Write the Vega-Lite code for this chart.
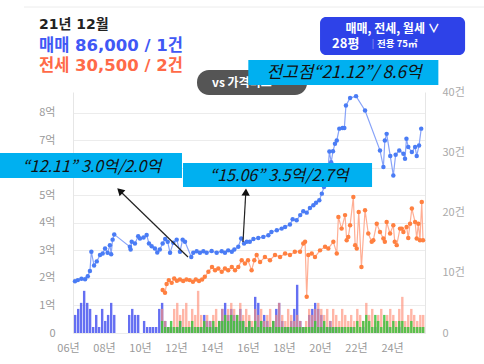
{
"$schema": "https://vega.github.io/schema/vega-lite/v6.json",
"width": 352, "height": 241,
"autosize": "none",
"padding": {"left": 73, "top": 92, "right": 59, "bottom": 31},
"background": "white",
"config": {"view": {"stroke": null}, "font": "Noto Sans CJK KR", "scale": {"continuousPadding": 0}},
"datasets": {
"sale": [
{"t":2006.39,"v":1.88},{"t":2006.55,"v":1.92},{"t":2006.75,"v":1.97},{"t":2006.95,"v":1.95},{"t":2007.1,"v":2.06},{"t":2007.22,"v":2.25},{"t":2007.3,"v":2.95},{"t":2007.45,"v":2.45},{"t":2007.6,"v":2.6},{"t":2007.78,"v":2.83},{"t":2007.93,"v":2.89},{"t":2008.06,"v":3.07},{"t":2008.2,"v":2.91},{"t":2008.33,"v":3.19},{"t":2008.4,"v":2.86},{"t":2008.48,"v":3.39},{"t":2008.57,"v":3.58},{"t":2009.44,"v":3.13},{"t":2009.48,"v":3.03},{"t":2009.54,"v":3.31},{"t":2009.72,"v":3.25},{"t":2009.9,"v":3.51},{"t":2010.0,"v":3.43},{"t":2010.2,"v":3.47},{"t":2010.37,"v":3.56},{"t":2010.5,"v":3.25},{"t":2010.65,"v":3.15},{"t":2010.83,"v":3.07},{"t":2010.96,"v":2.92},{"t":2011.1,"v":3.03},{"t":2011.26,"v":3.25},{"t":2011.4,"v":3.41},{"t":2011.54,"v":3.31},{"t":2011.67,"v":2.91},{"t":2011.85,"v":3.28},{"t":2012.04,"v":3.39},{"t":2012.22,"v":2.95},{"t":2012.37,"v":3.39},{"t":2012.5,"v":3.31},{"t":2012.85,"v":2.76},{"t":2012.96,"v":2.91},{"t":2013.15,"v":2.97},{"t":2013.33,"v":2.91},{"t":2013.52,"v":2.97},{"t":2013.7,"v":2.91},{"t":2013.98,"v":2.98},{"t":2014.26,"v":2.91},{"t":2014.54,"v":2.97},{"t":2014.72,"v":2.91},{"t":2014.9,"v":3.0},{"t":2015.1,"v":2.95},{"t":2015.24,"v":3.03},{"t":2015.46,"v":3.13},{"t":2015.62,"v":3.43},{"t":2015.78,"v":3.25},{"t":2015.93,"v":3.31},{"t":2016.1,"v":3.31},{"t":2016.3,"v":3.41},{"t":2016.57,"v":3.45},{"t":2016.85,"v":3.49},{"t":2017.13,"v":3.55},{"t":2017.3,"v":3.67},{"t":2017.6,"v":3.73},{"t":2017.87,"v":3.79},{"t":2018.06,"v":3.85},{"t":2018.33,"v":3.94},{"t":2018.48,"v":4.13},{"t":2018.7,"v":4.09},{"t":2018.9,"v":4.28},{"t":2019.07,"v":4.42},{"t":2019.26,"v":4.37},{"t":2019.44,"v":4.54},{"t":2019.63,"v":4.64},{"t":2019.78,"v":4.73},{"t":2019.96,"v":4.82},{"t":2020.1,"v":5.06},{"t":2020.22,"v":5.3},{"t":2020.4,"v":5.55},{"t":2020.52,"v":6.59},{"t":2020.62,"v":6.2},{"t":2020.72,"v":6.6},{"t":2020.83,"v":6.87},{"t":2020.93,"v":6.99},{"t":2021.07,"v":7.42},{"t":2021.25,"v":7.44},{"t":2021.35,"v":7.44},{"t":2021.44,"v":8.26},{"t":2021.67,"v":8.53},{"t":2022.0,"v":8.6},{"t":2022.5,"v":8.08},{"t":2023.33,"v":6.63},{"t":2023.52,"v":6.03},{"t":2023.6,"v":6.99},{"t":2023.7,"v":7.23},{"t":2023.9,"v":6.43},{"t":2024.07,"v":5.72},{"t":2024.2,"v":6.47},{"t":2024.4,"v":6.63},{"t":2024.63,"v":6.51},{"t":2024.72,"v":6.33},{"t":2024.8,"v":7.05},{"t":2024.9,"v":6.75},{"t":2025.1,"v":6.57},{"t":2025.28,"v":6.75},{"t":2025.37,"v":6.43},{"t":2025.5,"v":6.81},{"t":2025.62,"v":7.42}
],
"jeonse": [
{"t":2011.26,"v":1.56},{"t":2011.39,"v":1.46},{"t":2011.48,"v":1.78},{"t":2011.6,"v":1.92},{"t":2011.76,"v":1.82},{"t":2011.9,"v":1.98},{"t":2012.05,"v":1.9},{"t":2012.22,"v":1.94},{"t":2012.4,"v":1.89},{"t":2012.58,"v":1.94},{"t":2012.76,"v":1.92},{"t":2012.94,"v":1.86},{"t":2013.1,"v":1.94},{"t":2013.28,"v":1.89},{"t":2013.45,"v":1.94},{"t":2013.6,"v":2.04},{"t":2013.8,"v":2.22},{"t":2014.0,"v":2.4},{"t":2014.17,"v":2.28},{"t":2014.35,"v":2.34},{"t":2014.54,"v":2.22},{"t":2014.72,"v":2.34},{"t":2014.9,"v":2.28},{"t":2015.1,"v":2.4},{"t":2015.28,"v":2.28},{"t":2015.46,"v":2.4},{"t":2015.65,"v":2.64},{"t":2015.83,"v":2.52},{"t":2016.0,"v":2.64},{"t":2016.2,"v":2.28},{"t":2016.35,"v":2.64},{"t":2016.48,"v":2.83},{"t":2016.67,"v":2.58},{"t":2016.94,"v":2.76},{"t":2017.22,"v":2.64},{"t":2017.5,"v":2.83},{"t":2017.78,"v":2.76},{"t":2018.06,"v":2.89},{"t":2018.33,"v":2.83},{"t":2018.6,"v":2.95},{"t":2018.89,"v":2.95},{"t":2019.07,"v":3.25},{"t":2019.17,"v":3.31},{"t":2019.26,"v":1.32},{"t":2019.35,"v":2.83},{"t":2019.54,"v":2.89},{"t":2019.72,"v":2.76},{"t":2020.0,"v":3.0},{"t":2020.28,"v":3.13},{"t":2020.46,"v":3.07},{"t":2020.74,"v":3.31},{"t":2020.93,"v":2.89},{"t":2021.02,"v":4.21},{"t":2021.2,"v":3.79},{"t":2021.39,"v":4.28},{"t":2021.48,"v":3.37},{"t":2021.57,"v":3.49},{"t":2021.67,"v":3.91},{"t":2021.85,"v":4.94},{"t":2021.95,"v":3.19},{"t":2022.04,"v":3.07},{"t":2022.15,"v":4.39},{"t":2022.3,"v":2.4},{"t":2022.5,"v":4.46},{"t":2022.68,"v":3.61},{"t":2022.87,"v":3.31},{"t":2022.96,"v":3.37},{"t":2023.15,"v":3.97},{"t":2023.33,"v":3.67},{"t":2023.52,"v":3.43},{"t":2023.6,"v":3.31},{"t":2023.7,"v":4.03},{"t":2023.89,"v":3.61},{"t":2024.07,"v":3.91},{"t":2024.15,"v":3.31},{"t":2024.26,"v":3.19},{"t":2024.44,"v":3.79},{"t":2024.54,"v":3.79},{"t":2024.63,"v":3.67},{"t":2024.81,"v":3.85},{"t":2024.9,"v":3.45},{"t":2025.0,"v":3.97},{"t":2025.1,"v":4.52},{"t":2025.28,"v":4.03},{"t":2025.37,"v":3.43},{"t":2025.46,"v":3.97},{"t":2025.55,"v":3.37},{"t":2025.65,"v":4.76},{"t":2025.72,"v":3.37}
],
"vol": [
{"t":2006.4,"s":3,"j":0,"w":0},{"t":2006.57,"s":4,"j":0,"w":0},{"t":2006.73,"s":5,"j":0,"w":0},{"t":2006.9,"s":7,"j":0,"w":0},{"t":2007.07,"s":5,"j":0,"w":0},{"t":2007.23,"s":4,"j":0,"w":0},{"t":2007.4,"s":1,"j":0,"w":0},{"t":2007.57,"s":3,"j":0,"w":0},{"t":2007.73,"s":1,"j":0,"w":0},{"t":2007.9,"s":4,"j":0,"w":0},{"t":2008.07,"s":2,"j":0,"w":0},{"t":2008.23,"s":3,"j":0,"w":0},{"t":2008.4,"s":5,"j":0,"w":0},{"t":2008.57,"s":3,"j":0,"w":0},
{"t":2009.4,"s":3,"j":0,"w":0},{"t":2009.57,"s":4,"j":0,"w":0},{"t":2009.73,"s":3,"j":0,"w":0},{"t":2009.9,"s":3,"j":0,"w":0},{"t":2010.23,"s":2,"j":0,"w":0},{"t":2010.4,"s":1,"j":0,"w":0},{"t":2010.57,"s":1,"j":0,"w":0},{"t":2010.73,"s":1,"j":0,"w":0},{"t":2010.9,"s":1,"j":0,"w":0},{"t":2011.07,"s":4,"j":0,"w":0},
{"t":2011.23,"s":5,"j":4,"w":2},{"t":2011.4,"s":2,"j":2,"w":1},{"t":2011.57,"s":1,"j":1,"w":1},{"t":2011.73,"s":1,"j":1,"w":2},{"t":2011.9,"s":0,"j":4,"w":1},{"t":2012.07,"s":1,"j":5,"w":1},{"t":2012.23,"s":2,"j":3,"w":2},{"t":2012.4,"s":1,"j":4,"w":1},{"t":2012.57,"s":0,"j":5,"w":1},{"t":2012.73,"s":1,"j":2,"w":1},{"t":2012.9,"s":1,"j":4,"w":2},{"t":2013.07,"s":0,"j":3,"w":1},{"t":2013.23,"s":1,"j":7,"w":1},{"t":2013.4,"s":1,"j":3,"w":1},{"t":2013.57,"s":3,"j":2,"w":2},{"t":2013.73,"s":2,"j":3,"w":1},{"t":2013.9,"s":2,"j":2,"w":1},
{"t":2014.07,"s":1,"j":3,"w":2},{"t":2014.23,"s":1,"j":4,"w":1},{"t":2014.4,"s":2,"j":2,"w":2},{"t":2014.57,"s":4,"j":4,"w":2},{"t":2014.73,"s":5,"j":3,"w":3},{"t":2014.9,"s":3,"j":4,"w":2},{"t":2015.07,"s":4,"j":5,"w":3},{"t":2015.23,"s":3,"j":4,"w":2},{"t":2015.4,"s":2,"j":3,"w":3},{"t":2015.57,"s":4,"j":5,"w":2},{"t":2015.73,"s":2,"j":3,"w":2},{"t":2015.9,"s":1,"j":4,"w":1},
{"t":2016.07,"s":2,"j":3,"w":2},{"t":2016.23,"s":1,"j":2,"w":1},{"t":2016.4,"s":6,"j":4,"w":2},{"t":2016.57,"s":5,"j":3,"w":1},{"t":2016.73,"s":2,"j":4,"w":2},{"t":2016.9,"s":3,"j":2,"w":1},{"t":2017.07,"s":2,"j":3,"w":1},{"t":2017.23,"s":1,"j":4,"w":1},{"t":2017.4,"s":2,"j":2,"w":2},{"t":2017.57,"s":4,"j":3,"w":1},{"t":2017.73,"s":5,"j":5,"w":1},{"t":2017.9,"s":2,"j":3,"w":1},
{"t":2018.07,"s":1,"j":2,"w":1},{"t":2018.23,"s":1,"j":4,"w":1},{"t":2018.4,"s":2,"j":3,"w":1},{"t":2018.57,"s":4,"j":2,"w":1},{"t":2018.73,"s":8,"j":3,"w":1},{"t":2018.9,"s":2,"j":2,"w":1},{"t":2019.07,"s":1,"j":1,"w":1},{"t":2019.23,"s":0,"j":2,"w":1},{"t":2019.4,"s":3,"j":4,"w":1},{"t":2019.57,"s":4,"j":3,"w":1},{"t":2019.73,"s":5,"j":4,"w":2},{"t":2019.9,"s":4,"j":5,"w":1},
{"t":2020.07,"s":3,"j":4,"w":1},{"t":2020.23,"s":1,"j":3,"w":2},{"t":2020.4,"s":1,"j":4,"w":1},{"t":2020.57,"s":2,"j":2,"w":1},{"t":2020.73,"s":1,"j":4,"w":1},{"t":2020.9,"s":1,"j":3,"w":1},{"t":2021.07,"s":0,"j":2,"w":1},{"t":2021.23,"s":1,"j":4,"w":1},{"t":2021.4,"s":0,"j":3,"w":1},{"t":2021.57,"s":0,"j":2,"w":1},{"t":2021.73,"s":1,"j":3,"w":1},{"t":2021.9,"s":0,"j":2,"w":1},
{"t":2022.07,"s":0,"j":4,"w":2},{"t":2022.23,"s":0,"j":3,"w":1},{"t":2022.4,"s":1,"j":2,"w":2},{"t":2022.57,"s":0,"j":5,"w":3},{"t":2022.73,"s":0,"j":3,"w":2},{"t":2022.9,"s":0,"j":4,"w":1},{"t":2023.07,"s":1,"j":2,"w":3},{"t":2023.23,"s":0,"j":3,"w":2},{"t":2023.4,"s":0,"j":4,"w":1},{"t":2023.57,"s":0,"j":2,"w":3},{"t":2023.73,"s":1,"j":3,"w":2},{"t":2023.9,"s":0,"j":4,"w":1},
{"t":2024.07,"s":0,"j":3,"w":2},{"t":2024.23,"s":0,"j":2,"w":1},{"t":2024.4,"s":1,"j":4,"w":2},{"t":2024.57,"s":0,"j":6,"w":2},{"t":2024.73,"s":0,"j":2,"w":1},{"t":2024.9,"s":0,"j":3,"w":1},{"t":2025.07,"s":0,"j":4,"w":2},{"t":2025.23,"s":0,"j":3,"w":1},{"t":2025.4,"s":0,"j":2,"w":1},{"t":2025.57,"s":0,"j":3,"w":1},{"t":2025.73,"s":0,"j":3,"w":1}
]
},
"resolve": {"scale": {"y": "independent", "x": "independent"}},
"layer": [
  {"data": {"values": [{"label": "line"}]}, "mark": {"type": "rule", "color": "#ececec", "strokeWidth": 1},
   "encoding": {"x": {"datum": 2003.556, "type": "quantitative", "scale": {"domain": [2006.28, 2025.83], "nice": false, "zero": false, "padding": 0}, "axis": null}, "x2": {"datum": 2029.111}, "y": {"datum": 11.836, "type": "quantitative", "scale": {"domain": [0, 8.75], "nice": false}, "axis": null}}},
  {"data": {"name": "vol"}, "mark": {"type": "bar", "width": 2.4, "color": "#4a56f0", "opacity": 0.85},
   "encoding": {
    "x": {"field": "t", "type": "quantitative", "scale": {"domain": [2006.28, 2025.83], "nice": false, "zero": false, "padding": 0},
      "axis": {"orient": "bottom", "values": [2006.3,2008.3,2010.3,2012.3,2014.3,2016.3,2018.3,2020.3,2022.3,2024.3], "labelExpr": "(floor(datum.value) % 100 < 10 ? '0' : '') + (floor(datum.value) % 100) + '년'", "labelOffset": -5.4, "title": null, "ticks": false, "domain": false, "grid": false, "labelPadding": 9, "labelColor": "#999999", "labelFontSize": 11, "labelFont": "Noto Sans CJK KR", "labelOverlap": false, "labelBound": false, "labelFlush": false}},
    "y": {"field": "s", "type": "quantitative", "scale": {"domain": [0, 40], "nice": false},
      "axis": {"orient": "right", "values": [0,10,20,30,40], "labelExpr": "datum.value == 0 ? '0' : datum.value + '건'", "title": null, "ticks": false, "grid": false, "labelPadding": 17, "labelColor": "#aaaaaa", "labelFontSize": 11, "domainColor": "#e6e6e6", "labelFont": "Noto Sans CJK KR"}}
   }},
  {"data": {"name": "vol"}, "mark": {"type": "bar", "width": 2.4, "color": "#ff8f78", "opacity": 0.65},
   "encoding": {
    "x": {"field": "t", "type": "quantitative", "scale": {"domain": [2006.28, 2025.83], "nice": false, "zero": false, "padding": 0}, "axis": null},
    "y": {"field": "j", "type": "quantitative", "scale": {"domain": [0, 40], "nice": false}, "axis": null}
   }},
  {"data": {"name": "vol"}, "mark": {"type": "bar", "width": 2.4, "color": "#3cc23c", "opacity": 0.85},
   "encoding": {
    "x": {"field": "t", "type": "quantitative", "scale": {"domain": [2006.28, 2025.83], "nice": false, "zero": false, "padding": 0}, "axis": null},
    "y": {"field": "w", "type": "quantitative", "scale": {"domain": [0, 40], "nice": false}, "axis": null}
   }},
  {"data": {"name": "jeonse"}, "mark": {"type": "line", "color": "#ffae94", "strokeWidth": 1.2},
   "encoding": {
    "x": {"field": "t", "type": "quantitative", "scale": {"domain": [2006.28, 2025.83], "nice": false, "zero": false, "padding": 0}, "axis": null},
    "y": {"field": "v", "type": "quantitative", "scale": {"domain": [0, 8.75], "nice": false},
      "axis": {"orient": "left", "values": [0,1,2,3,4,5,6,7,8], "labelExpr": "datum.value == 0 ? '0' : (datum.value == 6 ? '' : datum.value + '억')", "title": null, "ticks": false, "labelPadding": 18, "labelColor": "#999999", "labelFontSize": 11, "grid": true, "gridColor": "#ececec", "domainColor": "#e6e6e6", "labelFont": "Noto Sans CJK KR"}}
   }},
  {"data": {"name": "jeonse"}, "mark": {"type": "point", "filled": true, "color": "#ff8040", "size": 20, "opacity": 1},
   "encoding": {
    "x": {"field": "t", "type": "quantitative", "scale": {"domain": [2006.28, 2025.83], "nice": false, "zero": false, "padding": 0}, "axis": null},
    "y": {"field": "v", "type": "quantitative", "scale": {"domain": [0, 8.75], "nice": false}, "axis": null}
   }},
  {"data": {"name": "sale"}, "mark": {"type": "line", "color": "#88a3f8", "strokeWidth": 1.2},
   "encoding": {
    "x": {"field": "t", "type": "quantitative", "scale": {"domain": [2006.28, 2025.83], "nice": false, "zero": false, "padding": 0}, "axis": null},
    "y": {"field": "v", "type": "quantitative", "scale": {"domain": [0, 8.75], "nice": false}, "axis": null}
   }},
  {"data": {"name": "sale"}, "mark": {"type": "point", "filled": true, "color": "#4a7cf5", "size": 20, "opacity": 1},
   "encoding": {
    "x": {"field": "t", "type": "quantitative", "scale": {"domain": [2006.28, 2025.83], "nice": false, "zero": false, "padding": 0}, "axis": null},
    "y": {"field": "v", "type": "quantitative", "scale": {"domain": [0, 8.75], "nice": false}, "axis": null}
   }},
  {"data": {"values": [{"label": "arrow"}]}, "mark": {"type": "rule", "color": "#222222", "strokeWidth": 1.2},
   "encoding": {"x": {"datum": 2012.667, "type": "quantitative", "scale": {"domain": [2006.28, 2025.83], "nice": false, "zero": false, "padding": 0}, "axis": null}, "y": {"datum": 2.759, "type": "quantitative", "scale": {"domain": [0, 8.75], "nice": false}, "axis": null}, "x2": {"datum": 2008.889}, "y2": {"datum": 5.156}}},
  {"data": {"values": [{"label": "arrow"}]}, "mark": {"type": "point", "shape": "triangle-up", "filled": true, "color": "#111111", "size": 70, "angle": 314, "opacity": 1},
   "encoding": {"x": {"datum": 2008.883, "type": "quantitative", "scale": {"domain": [2006.28, 2025.83], "nice": false, "zero": false, "padding": 0}, "axis": null}, "y": {"datum": 5.163, "type": "quantitative", "scale": {"domain": [0, 8.75], "nice": false}, "axis": null}}},
  {"data": {"values": [{"label": "arrow"}]}, "mark": {"type": "rule", "color": "#222222", "strokeWidth": 1.2},
   "encoding": {"x": {"datum": 2015.722, "type": "quantitative", "scale": {"domain": [2006.28, 2025.83], "nice": false, "zero": false, "padding": 0}, "axis": null}, "y": {"datum": 3.304, "type": "quantitative", "scale": {"domain": [0, 8.75], "nice": false}, "axis": null}, "x2": {"datum": 2015.878}, "y2": {"datum": 5.119}}},
  {"data": {"values": [{"label": "arrow"}]}, "mark": {"type": "point", "shape": "triangle-up", "filled": true, "color": "#111111", "size": 70, "angle": 3, "opacity": 1},
   "encoding": {"x": {"datum": 2015.878, "type": "quantitative", "scale": {"domain": [2006.28, 2025.83], "nice": false, "zero": false, "padding": 0}, "axis": null}, "y": {"datum": 5.119, "type": "quantitative", "scale": {"domain": [0, 8.75], "nice": false}, "axis": null}}},
  {"data": {"values": [{"label": "box"}]}, "mark": {"type": "rect", "color": "#2e42e8", "cornerRadius": 6},
   "encoding": {"x": {"datum": 2020.0, "type": "quantitative", "scale": {"domain": [2006.28, 2025.83], "nice": false, "zero": false, "padding": 0}, "axis": null}, "x2": {"datum": 2028.056}, "y": {"datum": 11.473, "type": "quantitative", "scale": {"domain": [0, 8.75], "nice": false}, "axis": null}, "y2": {"datum": 10.093}}},
  {"data": {"values": [{"label": "매매, 전세, 월세 ∨"}]}, "mark": {"type": "text", "color": "white", "fontSize": 12, "fontWeight": "bold", "align": "center", "baseline": "middle"},
   "encoding": {"x": {"datum": 2024.028, "type": "quantitative", "scale": {"domain": [2006.28, 2025.83], "nice": false, "zero": false, "padding": 0}, "axis": null}, "y": {"datum": 11.037, "type": "quantitative", "scale": {"domain": [0, 8.75], "nice": false}, "axis": null}, "text": {"field": "label"}}},
  {"data": {"values": [{"label": "28평"}]}, "mark": {"type": "text", "color": "white", "fontSize": 13, "fontWeight": "bold", "align": "left", "baseline": "middle"},
   "encoding": {"x": {"datum": 2020.667, "type": "quantitative", "scale": {"domain": [2006.28, 2025.83], "nice": false, "zero": false, "padding": 0}, "axis": null}, "y": {"datum": 10.475, "type": "quantitative", "scale": {"domain": [0, 8.75], "nice": false}, "axis": null}, "text": {"field": "label"}}},
  {"data": {"values": [{"label": "|"}]}, "mark": {"type": "text", "color": "#9aa6f5", "fontSize": 9, "align": "center", "baseline": "middle"},
   "encoding": {"x": {"datum": 2022.944, "type": "quantitative", "scale": {"domain": [2006.28, 2025.83], "nice": false, "zero": false, "padding": 0}, "axis": null}, "y": {"datum": 10.475, "type": "quantitative", "scale": {"domain": [0, 8.75], "nice": false}, "axis": null}, "text": {"field": "label"}}},
  {"data": {"values": [{"label": "전용 75㎡"}]}, "mark": {"type": "text", "color": "white", "fontSize": 9.5, "fontWeight": "bold", "align": "left", "baseline": "middle"},
   "encoding": {"x": {"datum": 2023.167, "type": "quantitative", "scale": {"domain": [2006.28, 2025.83], "nice": false, "zero": false, "padding": 0}, "axis": null}, "y": {"datum": 10.475, "type": "quantitative", "scale": {"domain": [0, 8.75], "nice": false}, "axis": null}, "text": {"field": "label"}}},
  {"data": {"values": [{"label": "pill"}]}, "mark": {"type": "rect", "color": "#555555", "cornerRadius": 12},
   "encoding": {"x": {"datum": 2013.167, "type": "quantitative", "scale": {"domain": [2006.28, 2025.83], "nice": false, "zero": false, "padding": 0}, "axis": null}, "x2": {"datum": 2019.278}, "y": {"datum": 9.549, "type": "quantitative", "scale": {"domain": [0, 8.75], "nice": false}, "axis": null}, "y2": {"datum": 8.641}}},
  {"data": {"values": [{"label": "vs 가격비교"}]}, "mark": {"type": "text", "color": "white", "fontSize": 12, "fontWeight": "bold", "align": "left", "baseline": "middle"},
   "encoding": {"x": {"datum": 2014.0, "type": "quantitative", "scale": {"domain": [2006.28, 2025.83], "nice": false, "zero": false, "padding": 0}, "axis": null}, "y": {"datum": 9.077, "type": "quantitative", "scale": {"domain": [0, 8.75], "nice": false}, "axis": null}, "text": {"field": "label"}}},
  {"data": {"values": [{"label": "box"}]}, "mark": {"type": "rect", "color": "#00b0f0"},
   "encoding": {"x": {"datum": 2016.017, "type": "quantitative", "scale": {"domain": [2006.28, 2025.83], "nice": false, "zero": false, "padding": 0}, "axis": null}, "x2": {"datum": 2026.572}, "y": {"datum": 9.912, "type": "quantitative", "scale": {"domain": [0, 8.75], "nice": false}, "axis": null}, "y2": {"datum": 9.004}}},
  {"data": {"values": [{"label": "전고점“21.12”/ 8.6억"}]}, "mark": {"type": "text", "color": "#111111", "fontSize": 17, "fontStyle": "italic", "align": "center", "baseline": "middle"},
   "encoding": {"x": {"datum": 2021.333, "type": "quantitative", "scale": {"domain": [2006.28, 2025.83], "nice": false, "zero": false, "padding": 0}, "axis": null}, "y": {"datum": 9.44, "type": "quantitative", "scale": {"domain": [0, 8.75], "nice": false}, "axis": null}, "text": {"field": "label"}}},
  {"data": {"values": [{"label": "box"}]}, "mark": {"type": "rect", "color": "#00b0f0"},
   "encoding": {"x": {"datum": 2002.222, "type": "quantitative", "scale": {"domain": [2006.28, 2025.83], "nice": false, "zero": false, "padding": 0}, "axis": null}, "x2": {"datum": 2012.333}, "y": {"datum": 6.535, "type": "quantitative", "scale": {"domain": [0, 8.75], "nice": false}, "axis": null}, "y2": {"datum": 5.628}}},
  {"data": {"values": [{"label": "“12.11” 3.0억/2.0억"}]}, "mark": {"type": "text", "color": "#111111", "fontSize": 16, "fontStyle": "italic", "align": "center", "baseline": "middle"},
   "encoding": {"x": {"datum": 2007.317, "type": "quantitative", "scale": {"domain": [2006.28, 2025.83], "nice": false, "zero": false, "padding": 0}, "axis": null}, "y": {"datum": 6.045, "type": "quantitative", "scale": {"domain": [0, 8.75], "nice": false}, "axis": null}, "text": {"field": "label"}}},
  {"data": {"values": [{"label": "box"}]}, "mark": {"type": "rect", "color": "#00b0f0"},
   "encoding": {"x": {"datum": 2012.389, "type": "quantitative", "scale": {"domain": [2006.28, 2025.83], "nice": false, "zero": false, "padding": 0}, "axis": null}, "x2": {"datum": 2022.889}, "y": {"datum": 6.172, "type": "quantitative", "scale": {"domain": [0, 8.75], "nice": false}, "axis": null}, "y2": {"datum": 5.301}}},
  {"data": {"values": [{"label": "“15.06” 3.5억/2.7억"}]}, "mark": {"type": "text", "color": "#111111", "fontSize": 16, "fontStyle": "italic", "align": "center", "baseline": "middle"},
   "encoding": {"x": {"datum": 2017.722, "type": "quantitative", "scale": {"domain": [2006.28, 2025.83], "nice": false, "zero": false, "padding": 0}, "axis": null}, "y": {"datum": 5.718, "type": "quantitative", "scale": {"domain": [0, 8.75], "nice": false}, "axis": null}, "text": {"field": "label"}}},
  {"data": {"values": [{"label": "21년 12월"}]}, "mark": {"type": "text", "color": "#222222", "fontSize": 14, "fontWeight": "bold", "font": "DejaVu Sans, Noto Sans CJK KR", "align": "left", "baseline": "middle"},
   "encoding": {"x": {"datum": 2004.389, "type": "quantitative", "scale": {"domain": [2006.28, 2025.83], "nice": false, "zero": false, "padding": 0}, "axis": null}, "y": {"datum": 11.183, "type": "quantitative", "scale": {"domain": [0, 8.75], "nice": false}, "axis": null}, "text": {"field": "label"}}},
  {"data": {"values": [{"label": "매매 86,000 / 1건"}]}, "mark": {"type": "text", "color": "#4058f5", "fontSize": 16.5, "fontWeight": "bold", "font": "DejaVu Sans, Noto Sans CJK KR", "align": "left", "baseline": "middle"},
   "encoding": {"x": {"datum": 2004.389, "type": "quantitative", "scale": {"domain": [2006.28, 2025.83], "nice": false, "zero": false, "padding": 0}, "axis": null}, "y": {"datum": 10.438, "type": "quantitative", "scale": {"domain": [0, 8.75], "nice": false}, "axis": null}, "text": {"field": "label"}}},
  {"data": {"values": [{"label": "전세 30,500 / 2건"}]}, "mark": {"type": "text", "color": "#ff6a48", "fontSize": 16.5, "fontWeight": "bold", "font": "DejaVu Sans, Noto Sans CJK KR", "align": "left", "baseline": "middle"},
   "encoding": {"x": {"datum": 2004.389, "type": "quantitative", "scale": {"domain": [2006.28, 2025.83], "nice": false, "zero": false, "padding": 0}, "axis": null}, "y": {"datum": 9.694, "type": "quantitative", "scale": {"domain": [0, 8.75], "nice": false}, "axis": null}, "text": {"field": "label"}}}
]
}
